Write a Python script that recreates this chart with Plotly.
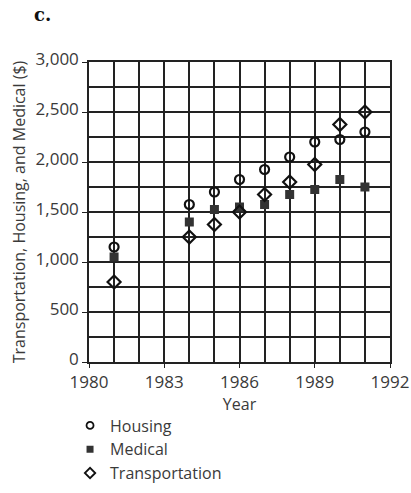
import plotly.graph_objects as go

years_h = [1981, 1984, 1985, 1986, 1987, 1988, 1989, 1990, 1991]
housing = [1150, 1575, 1700, 1825, 1925, 2050, 2200, 2225, 2300]
medical = [1050, 1400, 1525, 1550, 1575, 1675, 1725, 1825, 1750]
transportation = [800, 1250, 1375, 1500, 1675, 1800, 1975, 2375, 2500]

FONT = "Open Sans"
TXT = "#3a3a3a"
fig = go.Figure()
fig.add_trace(go.Scatter(x=years_h, y=housing, mode="markers", name="Housing", showlegend=False,
                         marker=dict(symbol="circle-open", size=9, color="#111",
                                     line=dict(width=2.2, color="#111"))))
fig.add_trace(go.Scatter(x=years_h, y=medical, mode="markers", name="Medical", showlegend=False,
                         marker=dict(symbol="square", size=9, color="#333",
                                     line=dict(width=0))))
fig.add_trace(go.Scatter(x=years_h, y=transportation, mode="markers", name="Transportation",
                         showlegend=False,
                         marker=dict(symbol="diamond-open", size=10, color="#111",
                                     line=dict(width=2.2, color="#111"))))
# legend entries (smaller symbols, as in the reference)
fig.add_trace(go.Scatter(x=[None], y=[None], mode="markers", name="Housing",
                         marker=dict(symbol="circle-open", size=7, color="#111",
                                     line=dict(width=1.8, color="#111"))))
fig.add_trace(go.Scatter(x=[None], y=[None], mode="markers", name="Medical",
                         marker=dict(symbol="square", size=7, color="#333", line=dict(width=0))))
fig.add_trace(go.Scatter(x=[None], y=[None], mode="markers", name="Transportation",
                         marker=dict(symbol="diamond-open", size=8, color="#111",
                                     line=dict(width=1.8, color="#111"))))

fig.update_layout(
    width=411, height=493,
    margin=dict(l=89, r=21, t=62, b=131, autoexpand=False),
    paper_bgcolor="white", plot_bgcolor="white",
    font=dict(family=FONT, size=16, color=TXT),
    showlegend=True,
    legend=dict(x=-0.063, y=-0.155, xanchor="left", yanchor="top",
                font=dict(size=16, color=TXT), tracegroupgap=0,
                itemsizing="trace", bgcolor="rgba(0,0,0,0)"),
    annotations=[dict(text="<b>c.</b>", x=-0.153, y=1.157, xref="paper", yref="paper",
                      xanchor="center", yanchor="middle",
                      showarrow=False, font=dict(size=18, color="#111", family="DejaVu Serif"))],
)
fig.update_xaxes(range=[1980, 1992], tick0=1980, dtick=3, showgrid=True, automargin=False,
                 gridcolor="#222", gridwidth=1.5,
                 minor=dict(dtick=1, showgrid=True, gridcolor="#222", gridwidth=1.5),
                 ticks="outside", ticklen=4, tickcolor="#222", tickfont=dict(size=17),
                 showline=True, linecolor="#222", linewidth=1.5, mirror=True,
                 zeroline=False, title=dict(text="Year", standoff=0, font=dict(size=16)))
fig.update_yaxes(range=[0, 3000], tick0=0, dtick=500, tickformat=",", showgrid=True,
                 automargin=False, ticklabelshift=-3,
                 gridcolor="#222", gridwidth=1.5,
                 minor=dict(dtick=250, showgrid=True, gridcolor="#222", gridwidth=1.5),
                 ticks="outside", ticklen=5, tickcolor="#222", tickfont=dict(size=17),
                 showline=True, linecolor="#222", linewidth=1.5, mirror=True,
                 zeroline=False,
                 title=dict(text="Transportation, Housing, and Medical ($)", standoff=6,
                            font=dict(size=16)))

fig.write_html("out.html", post_script="document.body.style.margin='0';",
               config={"displayModeBar": False})
